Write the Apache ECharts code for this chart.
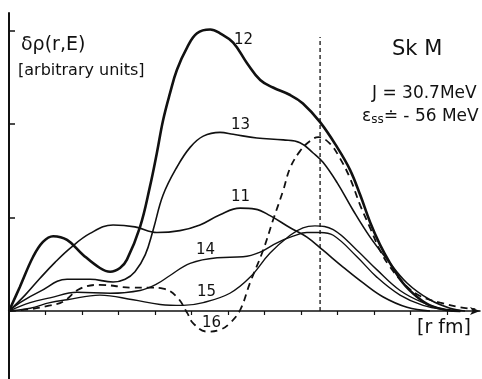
<!DOCTYPE html>
<html><head><meta charset="utf-8">
<script src="https://cdn.jsdelivr.net/npm/echarts@6/dist/echarts.min.js"></script>
<style>html,body{margin:0;padding:0;background:#fff}#c{width:482px;height:379px}</style>
</head><body><div id="c"></div>
<script>
// r in fm, values in arbitrary units
const r12 = [0,0.30,0.66,0.93,1.21,1.59,2.03,2.49,2.77,3.04,3.23,3.59,3.86,4.05,4.22,4.41,4.60,4.88,5.15,5.51,5.78,6.14,6.52,6.88,7.23,7.70,8.05,8.52,8.99,9.34,9.62,9.89,10.16,10.44,10.79,11.18,11.53,12.0,12.36];
const v12 = [0,0.26,0.58,0.74,0.80,0.76,0.60,0.46,0.42,0.46,0.55,0.90,1.33,1.69,2.04,2.33,2.58,2.82,2.97,3.01,2.97,2.87,2.65,2.47,2.39,2.31,2.22,2.02,1.75,1.51,1.24,0.95,0.71,0.51,0.30,0.15,0.06,0.01,0];
const r13 = [0,0.30,0.85,1.59,2.22,2.85,3.18,3.45,3.73,3.95,4.22,4.60,4.96,5.32,5.78,6.14,6.79,7.51,7.97,8.33,8.60,8.99,9.42,9.89,10.36,10.90,11.53,12.08,12.49];
const v13 = [0,0.09,0.21,0.34,0.34,0.31,0.34,0.42,0.60,0.87,1.24,1.54,1.75,1.87,1.91,1.89,1.85,1.83,1.80,1.69,1.59,1.37,1.08,0.79,0.55,0.30,0.12,0.03,0];
const r11 = [0,0.44,0.85,1.26,1.67,2.22,2.85,3.45,4.05,4.68,5.23,5.78,6.33,6.74,7.15,7.70,8.16,8.60,9.15,9.70,10.25,10.90,11.53];
const v11 = [0,0.17,0.35,0.52,0.67,0.83,0.92,0.90,0.84,0.86,0.92,1.03,1.10,1.09,1.02,0.89,0.79,0.65,0.47,0.30,0.15,0.04,0];
const r14 = [0,0.58,1.12,1.86,2.77,3.59,4.05,4.41,4.96,5.70,6.41,6.88,7.34,7.78,8.16,8.52,8.88,9.53,10.08,10.71,11.34,12.0,12.36];
const v14 = [0,0.09,0.14,0.20,0.19,0.22,0.29,0.38,0.51,0.57,0.58,0.63,0.73,0.80,0.84,0.84,0.81,0.58,0.36,0.17,0.06,0.01,0];
const r15 = [0,0.58,1.12,1.59,2.49,3.40,4.14,4.77,5.32,6.05,6.60,7.15,7.70,8.05,8.38,8.88,9.53,10.08,10.71,11.34,12.0,12.36];
const v15 = [0,0.03,0.09,0.12,0.17,0.12,0.07,0.06,0.09,0.19,0.36,0.62,0.81,0.89,0.91,0.87,0.65,0.44,0.22,0.09,0.01,0];
const r16 = [0,0.58,1.12,1.48,1.95,2.49,3.40,3.86,4.22,4.60,4.88,5.04,5.42,5.78,6.05,6.33,6.60,6.96,7.23,7.51,7.70,7.97,8.25,8.47,8.79,9.07,9.34,9.62,9.89,10.16,10.44,10.85,11.26,11.81,12.36,12.77];
const v16 = [0,0.02,0.06,0.10,0.24,0.28,0.25,0.25,0.24,0.15,-0.02,-0.13,-0.22,-0.20,-0.13,0.01,0.30,0.65,0.97,1.29,1.53,1.71,1.82,1.86,1.79,1.63,1.42,1.13,0.89,0.65,0.47,0.28,0.16,0.09,0.04,0.02];
const rSurface = 8.52;
const vSurfaceTop = 2.93;
const xTicks = [1,2,3,4,5,6,7,8,9,10,11,12];
const yTicks = [1,2,3];

const zip = (a,b) => a.map((x,i)=>[x,b[i]]);
const ink = '#111';
const FONT = 'DejaVu Sans';
function curve(name, r, v, w, dashed) {
  return { name, type:'line', data: zip(r,v), smooth:0.4, symbol:'none',
    lineStyle:{color:ink, width:w, type: dashed ? [7,5] : 'solid'}, z: dashed?3:4, silent:true };
}
const chart = echarts.init(document.getElementById('c'), null, {renderer:'canvas'});
const txt = (text, x, y, size, extra) => ({ type:'text', left:x, top:y,
  style: Object.assign({ text, fill:ink, font: size+'px "'+FONT+'"' }, extra||{}) });
chart.setOption({
  backgroundColor:'#fff',
  animation:false,
  grid:{left:9, right:2, top:13, bottom:0},
  xAxis:{ type:'value', min:0, max:12.9,
    axisLine:{show:true, onZero:true, lineStyle:{color:ink, width:1.5}, symbol:['none','arrow'], symbolSize:[6,10]},
    axisTick:{show:true, inside:false, length:4, customValues:xTicks, lineStyle:{color:ink, width:1.2}},
    axisLabel:{show:false}, splitLine:{show:false} },
  yAxis:{ type:'value', min:-0.727, max:3.187,
    axisLine:{show:true, lineStyle:{color:ink, width:2}},
    axisTick:{show:true, inside:true, length:6, customValues:yTicks, lineStyle:{color:ink, width:1.5}},
    axisLabel:{show:false}, splitLine:{show:false} },
  series:[
    curve('12', r12, v12, 2.6, false),
    curve('13', r13, v13, 1.6, false),
    curve('11', r11, v11, 1.6, false),
    curve('14', r14, v14, 1.4, false),
    curve('15', r15, v15, 1.4, false),
    curve('16', r16, v16, 1.8, true),
    { type:'line', data:[[rSurface,0],[rSurface,vSurfaceTop]], symbol:'none',
      lineStyle:{color:ink, width:1.3, type:[4,3]}, silent:true }
  ],
  graphic:[
    txt('δρ(r,E)', 21, 36, 19),
    txt('[arbitrary units]', 18, 63, 16),
    txt('Sk M', 392, 39, 21),
    txt('J = 30.7MeV', 372, 85, 17),
    { type:'text', left:362, top:108, style:{ text:'{a|ε}{s|ss}{a|≐ - 56 MeV}', rich:{
        a:{font:'17px "'+FONT+'"', fill:ink}, s:{font:'12px "'+FONT+'"', fill:ink, verticalAlign:'bottom', padding:[7,0,0,0]} } } },
    txt('[r fm]', 417, 319, 19),
    txt('12', 234, 33, 15),
    txt('13', 231, 118, 15),
    txt('11', 231, 190, 15),
    txt('14', 196, 243, 15),
    txt('15', 197, 285, 15),
    txt('16', 202, 316, 15)
  ]
});
</script></body></html>
